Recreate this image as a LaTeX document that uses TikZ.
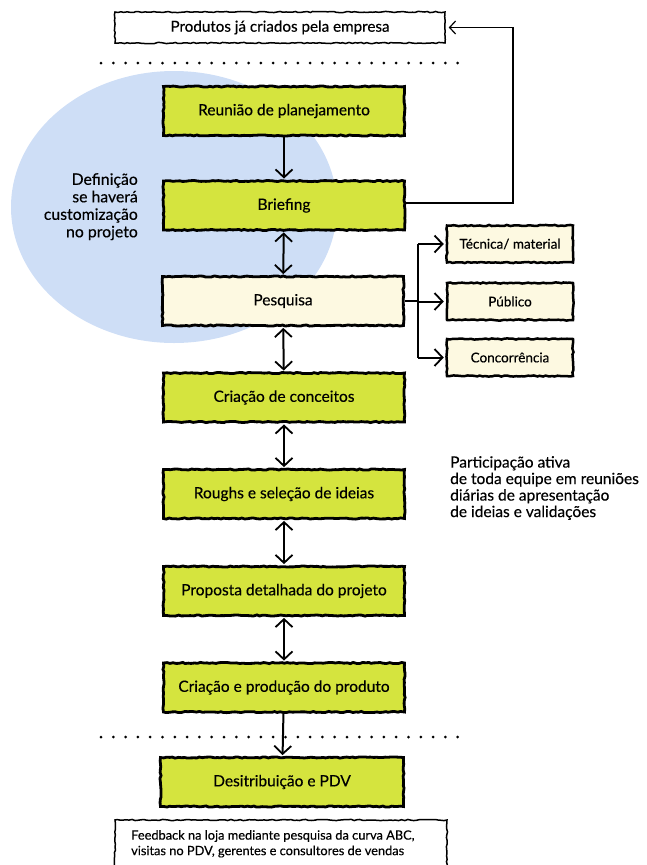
\documentclass[tikz,border=0pt]{standalone}
\usepackage{fontspec}
\setmainfont{Lato}[FakeBold=0.35]
\usetikzlibrary{arrows.meta,decorations.pathmorphing}

\definecolor{stepfill}{RGB}{213,228,62}
\definecolor{creamfill}{RGB}{253,249,225}
\definecolor{bubble}{RGB}{206,222,246}

\tikzset{
  x=1pt, y=-1pt,
  sketchy/.style={decorate, decoration={random steps, segment length=3pt, amplitude=0.6pt}},
  stepbox/.style={draw=black, line width=2.8pt, fill=stepfill, sketchy,
    minimum width=241pt, minimum height=49pt, inner sep=0pt,
    font=\fontsize{15.5}{18}\selectfont},
  creambox/.style={stepbox, fill=creamfill},
  sidebox/.style={draw=black, line width=2.5pt, fill=creamfill, sketchy,
    minimum width=126pt, minimum height=37pt, inner sep=0pt,
    font=\fontsize{13.5}{15}\selectfont},
  thinbox/.style={draw=black, line width=1.5pt, fill=white, sketchy,
    inner sep=0pt},
  barb/.tip={Straight Barb[length=8pt,width=17pt,line width=1.8pt]},
  flow/.style={line width=2pt, barb-barb, shorten <=1pt, shorten >=1pt},
  flowdown/.style={line width=2pt, -barb, shorten >=1pt},
  branch/.style={line width=2pt, -barb, shorten >=2pt},
  loopline/.style={line width=1.2pt, -{Straight Barb[length=6pt,width=13pt,line width=1.2pt]}},
  dotrow/.style={line width=3pt, line cap=round, dash pattern=on 0pt off 12.3pt},
}

\begin{document}
\begin{tikzpicture}
  \useasboundingbox (0,0) rectangle (646,865);
  \clip (0,0) rectangle (646,865);

  % bubble behind the first steps
  \fill[bubble] (174,207) ellipse [x radius=163, y radius=136];

  % separators
  \draw[dotrow] (101,63) -- (463,63);
  \draw[dotrow] (101,737) -- (466,737);

  % existing products
  \node[thinbox, minimum width=330pt, minimum height=31pt,
        font=\fontsize{15.2}{18}\selectfont] (prev) at (280,27.5)
        {Produtos já criados pela empresa};

  % main sequence
  \node[stepbox] (reu) at (284,111)   {Reunião de planejamento};
  \node[stepbox] (bri) at (284,205.5) {Briefing};
  \node[creambox] (pes) at (283,301)  {Pesquisa};
  \node[stepbox] (con) at (284,397.5) {Criação de conceitos};
  \node[stepbox] (rou) at (284,494)   {Roughs e seleção de ideias};
  \node[stepbox] (pro) at (284,591)   {Proposta detalhada do projeto};
  \node[stepbox] (cri) at (284,687.5) {Criação e produção do produto};
  \node[stepbox, minimum width=243pt] (dis) at (282,782) {Desitribuição e PDV};

  % research topics
  \node[sidebox] (tec) at (510,244)   {Técnica/ material};
  \node[sidebox] (pub) at (510,301.5) {Público};
  \node[sidebox] (cnc) at (510,357.5) {Concorrência};

  % feedback
  \node[thinbox, minimum width=332pt, minimum height=60pt] (fb) at (281,850) {};
  \node[anchor=north west, align=left, inner sep=0pt,
        font=\fontsize{12.8}{15.5}\selectfont] (fbt) at (131,830)
        {Feedback na loja mediante pesquisa da curva ABC,\\visitas no PDV, gerentes e consultores de vendas};

  % side notes
  \node[anchor=north east, align=right, inner sep=0pt,
        font=\fontsize{15.8}{17.5}\selectfont] (def) at (138,173)
        {Definição\\se haverá\\customização\\no projeto};
  \node[anchor=north west, align=left, inner sep=0pt,
        font=\fontsize{15.5}{16.5}\selectfont] (part) at (450,456)
        {Participação ativa\\de toda equipe em reuniões\\diárias de apresentação\\de ideias e validações};

  % connectors along the sequence
  \draw[flowdown] (reu) -- (bri);
  \draw[flow] (bri) -- (pes);
  \draw[flow] (pes) -- (con);
  \draw[flow] (con) -- (rou);
  \draw[flow] (rou) -- (pro);
  \draw[flow] (pro) -- (cri);
  \draw[flowdown] (cri) -- (dis);

  % research branches
  \coordinate (j) at (418,301);
  \draw[line width=2pt] (pes.east) -- (j);
  \draw[line width=2pt] (j |- tec.west) -- (j |- cnc.west);
  \draw[branch] (j |- tec.west) -- (tec.west);
  \draw[branch] (j |- pub.west) -- (pub.west);
  \draw[branch] (j |- cnc.west) -- (cnc.west);

  % briefing back to existing products
  \coordinate (turn) at (513,203);
  \draw[loopline] (bri.east |- turn) -- (turn) -- (turn |- prev.east) -- ([xshift=3pt]prev.east);
\end{tikzpicture}
\end{document}
